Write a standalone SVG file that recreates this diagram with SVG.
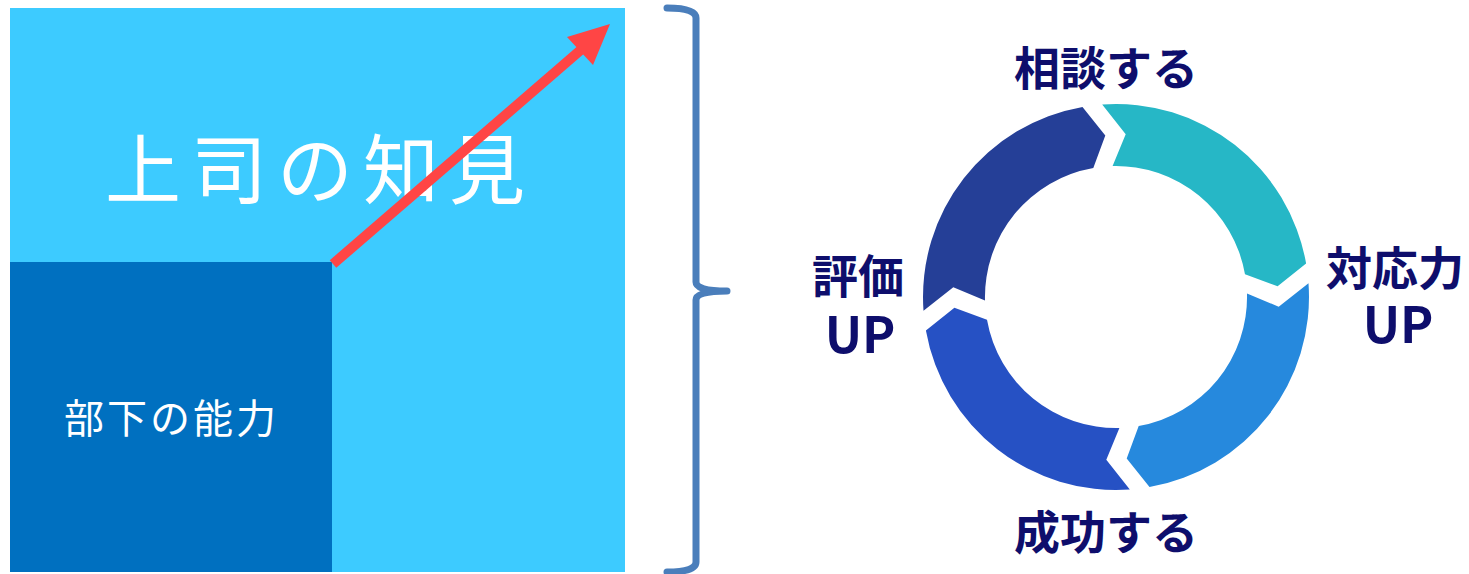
<svg xmlns="http://www.w3.org/2000/svg" width="1469" height="574" viewBox="0 0 1469 574">
  <style>
    .jp { font-family: "Noto Sans CJK JP", "Noto Sans", sans-serif; }
    .white { fill: #FFFFFF; }
    .lbl { fill: #0E0E6C; font-weight: 700; font-size: 46px; text-anchor: middle; }
    .up { font-size: 50px; }
    .brace { fill: none; stroke: #4A7EBB; stroke-width: 7; stroke-linecap: round; stroke-linejoin: round; }
  </style>
  <rect width="1469" height="574" fill="#FFFFFF"/>

  <g id="boss-knowledge">
    <rect x="10" y="8" width="615" height="564" fill="#3DCBFF"/>
    <text class="jp white" x="105" y="198" font-size="76" letter-spacing="10">上司の知見</text>
  </g>

  <g id="subordinate-ability">
    <rect x="10" y="262" width="322" height="310" fill="#0070C0"/>
    <text class="jp white" x="64" y="433" font-size="40" letter-spacing="3">部下の能力</text>
  </g>

  <g id="growth-arrow">
    <line x1="333" y1="264" x2="583" y2="48" stroke="#FF4545" stroke-width="10"/>
    <polygon points="610,24 567,37 593,65" fill="#FF4545"/>
  </g>

  <g id="brace">
    <path class="brace" d="M667,8 Q696,8 696,18 L696,282 Q696,291 727,291 Q696,291 696,300 L696,562 Q696,572 667,572"/>
  </g>

  <g id="cycle">
    <path id="seg-consult" fill="#26B7C6" d="M1102.2,104.5 A193,193 0 0 1 1306.1,263.5 L1277.6,286.3 L1245.0,274.3 A131,131 0 0 0 1112.6,166.0 L1125.7,134.3 Z"/>
    <path id="seg-response" fill="#2689DD" d="M1308.5,283.2 A193,193 0 0 1 1149.5,487.1 L1126.7,458.6 L1138.7,426.0 A131,131 0 0 0 1247.0,293.6 L1278.7,306.7 Z"/>
    <path id="seg-success" fill="#2651C4" d="M1129.8,489.5 A193,193 0 0 1 925.9,330.5 L954.4,307.7 L987.0,319.7 A131,131 0 0 0 1119.4,428.0 L1106.3,459.7 Z"/>
    <path id="seg-evaluate" fill="#253F97" d="M923.5,310.8 A193,193 0 0 1 1082.5,106.9 L1105.3,135.4 L1093.3,168.0 A131,131 0 0 0 985.0,300.4 L953.3,287.3 Z"/>
  </g>

  <g id="label-consult">
    <text class="jp lbl" x="1106" y="85">相談する</text>
  </g>
  <g id="label-response">
    <text class="jp lbl" x="1395" y="285">対応力</text>
    <text class="jp lbl up" x="1398" y="343">UP</text>
  </g>
  <g id="label-success">
    <text class="jp lbl" x="1106" y="549">成功する</text>
  </g>
  <g id="label-evaluate">
    <text class="jp lbl" x="858" y="293">評価</text>
    <text class="jp lbl up" x="860" y="353">UP</text>
  </g>
</svg>
